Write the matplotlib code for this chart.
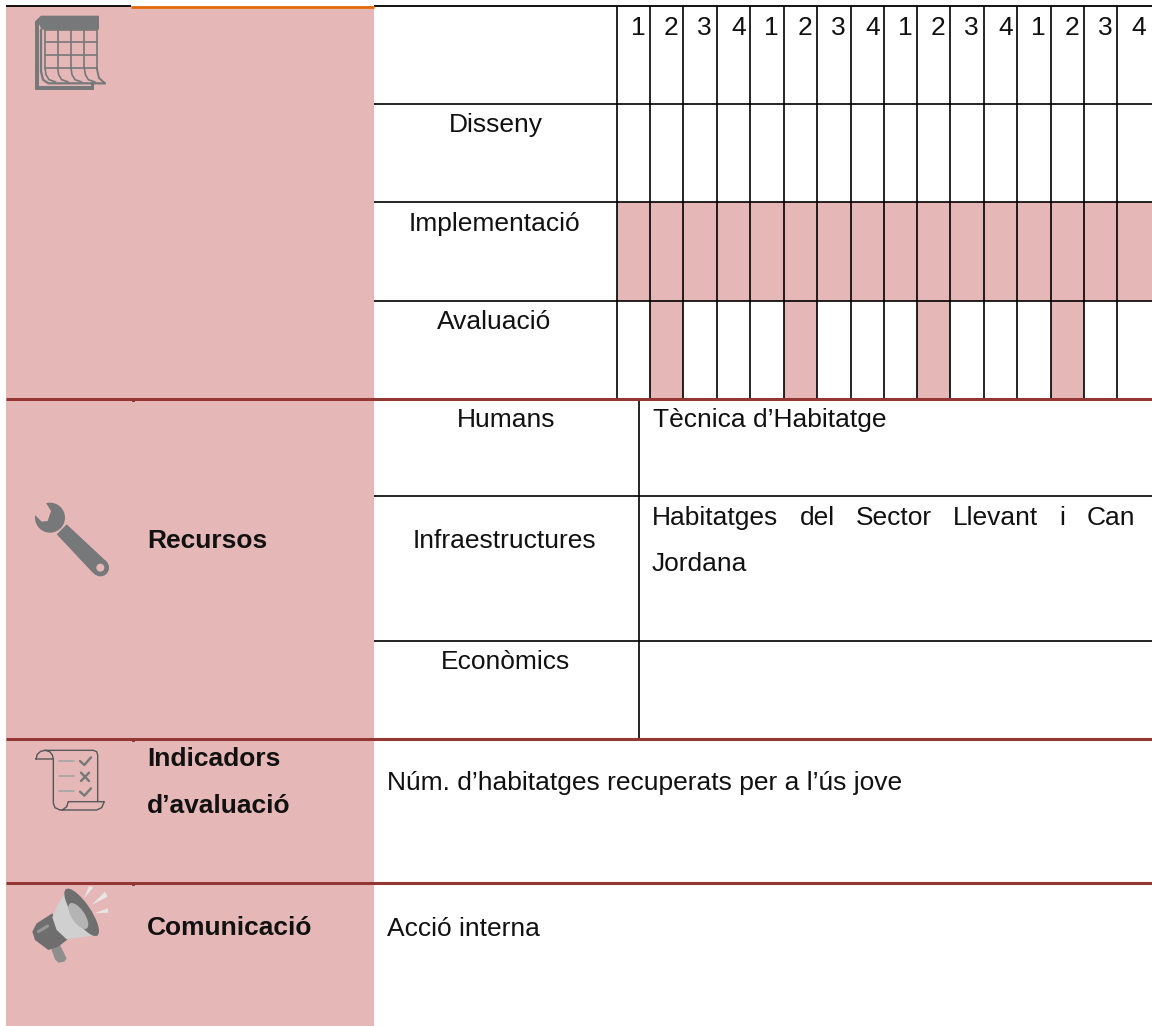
import matplotlib
matplotlib.use('Agg')
from matplotlib import pyplot as plt
from matplotlib.patches import Rectangle, Polygon, Circle, Ellipse

# quarters and the schedule
quarters = [1, 2, 3, 4] * 4
phases = ['Disseny', 'Implementació', 'Avaluació']
disseny = [0] * 16
implementacio = [1] * 16
avaluacio = [0, 1, 0, 0, 0, 1, 0, 0, 0, 1, 0, 0, 0, 1, 0, 0]
schedule = [disseny, implementacio, avaluacio]
resources = ['Humans', 'Infraestructures', 'Econòmics']
section_labels = ['Recursos', 'Indicadors', 'd’avaluació', 'Comunicació']
humans_text = 'Tècnica d’Habitatge'
infra_line1 = 'Habitatges del Sector Llevant i Can'
infra_line2 = 'Jordana'
indicator_text = 'Núm. d’habitatges recuperats per a l’ús jove'
comm_text = 'Acció interna'

PINK = '#E5B8B7'
RED = '#943634'
GREY = '#767879'
FS = 19

plt.rcParams['font.family'] = ['Liberation Sans', 'DejaVu Sans']
fig = plt.figure(figsize=(11.52, 10.26), dpi=100)
ax = fig.add_axes([0, 0, 1, 1])
ax.set_xlim(0, 1152)
ax.set_ylim(1026, 0)
ax.axis('off')


def txt(x, y, s, bold=False):
    return ax.text(x, y, s, fontsize=FS, color='#111111', va='baseline', ha='left',
                   fontweight='bold' if bold else 'normal')


def hline(y, x0, x1, color='black', lw=1.2):
    ax.plot([x0, x1], [y, y], color=color, lw=lw, solid_capstyle='butt', zorder=4)


def vline(x, y0, y1, lw=1.2):
    ax.plot([x, x], [y0, y1], color='black', lw=lw, solid_capstyle='butt', zorder=3)


# icon outlines are noted in 3x crop coordinates, ox/oy is the crop corner
def pts(ox, oy, xy):
    return [(ox + x / 3, oy + y / 3) for x, y in xy]


def fill(ox, oy, xy, color, z=5):
    ax.add_patch(Polygon(pts(ox, oy, xy), fc=color, ec='none', zorder=z))


def stroke(ox, oy, xy, color, lw, z=5):
    p = pts(ox, oy, xy)
    ax.plot([a for a, b in p], [b for a, b in p], color=color, lw=lw, zorder=z,
            solid_capstyle='round', solid_joinstyle='round')


# left band
ax.add_patch(Rectangle((6, 6), 368, 1020, fc=PINK, ec='none', zorder=1))

# gantt grid
col_x = [617, 650, 683, 717, 750, 784, 817, 851, 884, 917, 950, 984, 1017, 1051, 1084, 1117, 1152]
row_y = [6, 104, 202, 301, 399]
for r, row in enumerate(schedule):
    for c, on in enumerate(row):
        if on:
            ax.add_patch(Rectangle((col_x[c], row_y[r + 1]), col_x[c + 1] - col_x[c],
                                   row_y[r + 2] - row_y[r + 1], fc=PINK, ec='none', zorder=1))
for x in col_x[:-1]:
    vline(x, 6, 399)
for y in row_y[1:-1]:
    hline(y, 374, 1152)
hline(6, 6, 131, lw=1.3)
hline(6, 374, 1152, lw=1.3)
hline(7, 131, 374, color='#E36C0A', lw=2)
for y in [399, 739, 883]:
    hline(y, 6, 1152, color=RED, lw=2.2)
    ax.add_patch(Rectangle((132, y), 3, 3, fc=RED, ec='none', zorder=4))

# resources grid
vline(639, 399, 739)
hline(496, 374, 1152)
hline(641, 374, 1152)

for x, q in zip(col_x, quarters):
    txt(x + 14, 35, str(q))

phase_x = [449, 409, 437]
phase_base = [132, 231, 329]
for s, x, y in zip(phases, phase_x, phase_base):
    txt(x, y, s)

res_x = [457, 413, 441]
res_base = [427, 548, 669]
for s, x, y in zip(resources, res_x, res_base):
    txt(x, y, s)

txt(653, 427, humans_text)

# justified line, word by word
words = infra_line1.split()
fig.canvas.draw()
rend = fig.canvas.get_renderer()
items = [txt(652, 525, w) for w in words]
widths = [t.get_window_extent(rend).width for t in items]
gap = (1135 - 652 - sum(widths)) / (len(words) - 1)
pos = 652
for t, w in zip(items, widths):
    t.set_x(pos)
    pos += w + gap
txt(652, 571, infra_line2)

txt(387, 790, indicator_text)
txt(387, 936, comm_text)

for s, y in zip(section_labels, [548, 766, 813, 935]):
    txt(147, y, s, bold=True)

# calendar icon
ox, oy = 25, 8
fill(ox, oy, [(30, 40), (48, 23), (222, 23), (222, 65), (50, 65), (42, 48), (42, 235), (30, 243)], GREY)
fill(ox, oy, [(30, 235), (197, 235), (197, 222), (207, 222), (207, 245), (30, 245)], GREY)
for x in [60, 98, 138, 178, 215]:
    stroke(ox, oy, [(x, 65), (x, 180)], GREY, 1.2)
for y in [65, 103, 142, 180]:
    stroke(ox, oy, [(60, y), (215, y)], GREY, 1.2)
for x in [60, 98, 138, 178]:
    stroke(ox, oy, [(x, 180), (x + 3, 200), (x + 12, 215), (x + 32, 222)], GREY, 1.2)
stroke(ox, oy, [(48, 65), (48, 190), (54, 215), (70, 226), (240, 226)], GREY, 1.6)
stroke(ox, oy, [(215, 180), (222, 210), (240, 226)], GREY, 1.4)

# wrench icon
ox, oy = 25, 495
head = pts(ox, oy, [(75, 68)])[0]
ax.add_patch(Circle(head, 15, fc=GREY, ec='none', zorder=5))
fill(ox, oy, [(62, 22), (78, 48), (68, 78), (50, 80), (28, 58), (10, 30), (40, 5)], PINK, z=6)
fill(ox, oy, [(125, 88), (245, 200), (205, 235), (95, 118)], GREY)
ring = pts(ox, oy, [(226, 218)])[0]
ax.add_patch(Circle(ring, 8.7, fc=GREY, ec='none', zorder=5))
ax.add_patch(Circle(ring, 4, fc=PINK, ec='none', zorder=6))

# scroll icon
ox, oy = 25, 745
sc = '#555759'
stroke(ox, oy, [(60, 16), (205, 16), (215, 20), (218, 30), (218, 170)], sc, 1.0)
stroke(ox, oy, [(33, 42), (37, 28), (47, 19), (60, 16), (74, 20), (82, 30), (85, 42), (33, 42)], sc, 1.0)
stroke(ox, oy, [(85, 42), (85, 175), (90, 188), (105, 195), (215, 195), (230, 188), (238, 170), (130, 170),
                (125, 185), (112, 195)], sc, 1.0)
for y in [48, 93, 138]:
    stroke(ox, oy, [(103, y), (148, y)], '#A8A8A8', 1.3)
stroke(ox, oy, [(165, 48), (178, 60), (198, 37)], GREY, 1.7)
stroke(ox, oy, [(168, 83), (192, 108)], GREY, 1.7)
stroke(ox, oy, [(168, 108), (192, 83)], GREY, 1.7)
stroke(ox, oy, [(165, 140), (178, 152), (198, 130)], GREY, 1.7)

# megaphone icon
ox, oy = 25, 880
fill(ox, oy, [(78, 205), (105, 195), (125, 235), (118, 245), (100, 248), (90, 238)], '#8E8E8E')
fill(ox, oy, [(82, 100), (35, 130), (22, 155), (30, 180), (70, 210), (100, 200), (128, 178)], '#6E6E6E', z=6)
stroke(ox, oy, [(40, 155), (68, 138)], '#969696', 2.2, z=7)
fill(ox, oy, [(125, 30), (95, 80), (82, 112), (95, 150), (125, 178), (215, 165)], '#D0D0D0', z=7)
mid = pts(ox, oy, [(170, 97)])[0]
ax.add_patch(Ellipse(mid, 18, 56, angle=-34, fc='#6F6F6F', ec='none', zorder=8))
inner = pts(ox, oy, [(160, 108)])[0]
ax.add_patch(Ellipse(inner, 13, 30, angle=-34, fc='#B4B4B4', ec='none', zorder=9))
fill(ox, oy, [(177, 55), (192, 18), (205, 22)], '#E6E6E6')
fill(ox, oy, [(200, 75), (240, 35), (248, 50)], '#E6E6E6')
fill(ox, oy, [(208, 100), (248, 85), (250, 98)], '#E6E6E6')

fig.savefig('out.png', dpi=100)
